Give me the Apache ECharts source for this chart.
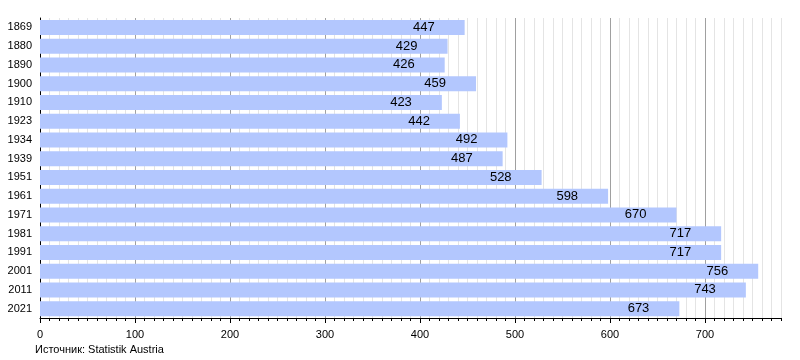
<!DOCTYPE html>
<html>
<head>
<meta charset="utf-8">
<script src="https://cdn.jsdelivr.net/npm/echarts@6/dist/echarts.min.js"></script>
<style>html,body{margin:0;padding:0;background:#fff}#c{width:800px;height:360px}</style>
</head>
<body>
<div id="c"></div>
<script>
const years = ['1869','1880','1890','1900','1910','1923','1934','1939','1951','1961','1971','1981','1991','2001','2011','2021'];
const population = [447,429,426,459,423,442,492,487,528,598,670,717,717,756,743,673];
const sourceText = 'Источник: Statistik Austria';

const font = 'Liberation Sans, Arial, sans-serif';
const gridColors = ['#a0a0a0','#e4e4e4','#e4e4e4','#e4e4e4','#e4e4e4','#e4e4e4','#e4e4e4','#e4e4e4','#e4e4e4','#e4e4e4'];
const chart = echarts.init(document.getElementById('c'), null, {renderer:'canvas'});
chart.setOption({
  animation:false,
  grid:{left:40, top:18, width:741, height:300, containLabel:false},
  xAxis:[
    {type:'value', min:0, max:780, interval:10, position:'bottom',
     axisLine:{show:true, onZero:false, lineStyle:{color:'#000', width:1}},
     axisTick:{show:true, length:3, lineStyle:{color:'#000'}},
     axisLabel:{show:false},
     splitLine:{show:true, lineStyle:{color:gridColors, width:1}}},
    {type:'value', min:0, max:780, interval:100, position:'bottom',
     axisLine:{show:false, onZero:false},
     axisTick:{show:true, length:5, lineStyle:{color:'#000'}},
     axisLabel:{show:true, color:'#000', fontSize:11, fontFamily:font, margin:11, showMaxLabel:false},
     splitLine:{show:false}}
  ],
  yAxis:{type:'category', data:years, inverse:true,
     axisLine:{show:true, lineStyle:{color:'#000', width:1}},
     axisTick:{show:false},
     axisLabel:{color:'#000', fontSize:11, fontFamily:font, margin:8},
     splitLine:{show:false}},
  series:[{type:'bar', data:population, xAxisIndex:0, barCategoryGap:'20%',
     itemStyle:{color:'#b3c7fe'},
     label:{show:true, position:'insideRight', distance:30, color:'#000', fontSize:13, fontFamily:font}}],
  graphic:[{type:'text', left:35, top:344, style:{text:sourceText, fontSize:11, fontFamily:font, fill:'#000'}}]
});
</script>
</body>
</html>
